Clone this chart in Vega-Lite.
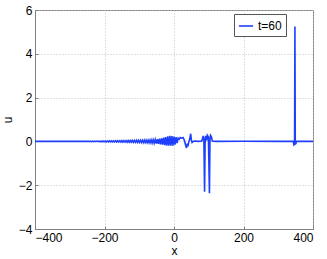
{
  "$schema": "https://vega.github.io/schema/vega-lite/v6.json",
  "autosize": "none",
  "width": 278,
  "height": 219,
  "padding": {"left": 35, "top": 10, "right": 14, "bottom": 30},
  "background": "white",
  "config": {
    "view": {"stroke": "#808080", "strokeWidth": 1},
    "font": "Liberation Sans",
    "axis": {
      "domainColor": "#808080",
      "tickColor": "#808080",
      "tickSize": -3,
      "labelColor": "#000000",
      "labelFontSize": 12,
      "labelFont": "Liberation Sans",
      "titleFont": "Liberation Sans",
      "titleFontWeight": "normal",
      "titleFontSize": 12,
      "titleColor": "#000000",
      "gridColor": "#c0c0c0",
      "gridDash": [1, 2],
      "gridWidth": 1
    }
  },
  "data": {
    "values": [
      {"x": -400, "u": 0}, {"x": -350, "u": 0}, {"x": -300, "u": 0.002},
      {"x": -240, "u": 0.01}, {"x": -237, "u": -0.01}, {"x": -234, "u": 0.01}, {"x": -231, "u": -0.01},
      {"x": -228, "u": 0.012}, {"x": -225, "u": -0.012}, {"x": -222, "u": 0.012}, {"x": -219, "u": -0.012},
      {"x": -216, "u": 0.015}, {"x": -213, "u": -0.015}, {"x": -210, "u": 0.015}, {"x": -207, "u": -0.015},
      {"x": -204, "u": 0.018}, {"x": -201, "u": -0.018}, {"x": -198, "u": 0.02}, {"x": -195, "u": -0.02},
      {"x": -192, "u": 0.02}, {"x": -189, "u": -0.02}, {"x": -186, "u": 0.022}, {"x": -183, "u": -0.022},
      {"x": -180, "u": 0.024}, {"x": -177, "u": -0.024}, {"x": -174, "u": 0.025}, {"x": -171, "u": -0.025},
      {"x": -168, "u": 0.027}, {"x": -165, "u": -0.027}, {"x": -162, "u": 0.028}, {"x": -159, "u": -0.028},
      {"x": -156, "u": 0.03}, {"x": -153, "u": -0.03}, {"x": -150, "u": 0.032}, {"x": -147, "u": -0.032},
      {"x": -144, "u": 0.034}, {"x": -141, "u": -0.034}, {"x": -138, "u": 0.036}, {"x": -135, "u": -0.036},
      {"x": -132, "u": 0.038}, {"x": -129, "u": -0.038}, {"x": -126, "u": 0.04}, {"x": -123, "u": -0.04},
      {"x": -120, "u": 0.042}, {"x": -117, "u": -0.042}, {"x": -114, "u": 0.045}, {"x": -111, "u": -0.045},
      {"x": -108, "u": 0.047}, {"x": -105, "u": -0.047}, {"x": -102, "u": 0.05}, {"x": -99, "u": -0.05},
      {"x": -96, "u": 0.052}, {"x": -93, "u": -0.052}, {"x": -90, "u": 0.055}, {"x": -87, "u": -0.055},
      {"x": -84, "u": 0.058}, {"x": -81, "u": -0.058}, {"x": -78, "u": 0.06}, {"x": -75, "u": -0.062},
      {"x": -72, "u": 0.065}, {"x": -69, "u": -0.068}, {"x": -66, "u": 0.07}, {"x": -63, "u": -0.074},
      {"x": -60, "u": 0.078}, {"x": -57, "u": -0.082}, {"x": -54, "u": 0.088}, {"x": -51, "u": -0.094},
      {"x": -48, "u": 0.1}, {"x": -45, "u": -0.11}, {"x": -42, "u": 0.12}, {"x": -39, "u": -0.13},
      {"x": -36, "u": 0.14}, {"x": -33, "u": -0.15}, {"x": -30, "u": 0.17}, {"x": -27, "u": -0.17},
      {"x": -24, "u": 0.2}, {"x": -21, "u": -0.19}, {"x": -18, "u": 0.23}, {"x": -15, "u": -0.2},
      {"x": -12, "u": 0.25}, {"x": -9, "u": -0.2}, {"x": -6, "u": 0.24}, {"x": -3, "u": -0.19},
      {"x": 0, "u": 0.22}, {"x": 3, "u": -0.15}, {"x": 6, "u": 0.2}, {"x": 9, "u": -0.08},
      {"x": 12, "u": 0.15}, {"x": 15, "u": 0.1}, {"x": 18, "u": 0.18}, {"x": 22, "u": 0.15},
      {"x": 26, "u": 0.18}, {"x": 30, "u": 0.05}, {"x": 33, "u": -0.15}, {"x": 36, "u": -0.3},
      {"x": 38, "u": -0.1}, {"x": 40, "u": -0.22}, {"x": 43, "u": 0.0}, {"x": 46, "u": 0.15},
      {"x": 48, "u": 0.35}, {"x": 50, "u": 0.05}, {"x": 52, "u": -0.05}, {"x": 55, "u": 0.0},
      {"x": 60, "u": 0.02}, {"x": 70, "u": 0.0}, {"x": 80, "u": 0.02}, {"x": 84, "u": 0.25},
      {"x": 86, "u": 0.1}, {"x": 88, "u": -2.3}, {"x": 89.5, "u": -0.1}, {"x": 91, "u": 0.25},
      {"x": 94, "u": 0.05}, {"x": 96, "u": 0.28}, {"x": 99, "u": 0.2}, {"x": 102, "u": -2.37},
      {"x": 103.5, "u": 0.1}, {"x": 105, "u": 0.28}, {"x": 108, "u": 0.2}, {"x": 110, "u": 0.02},
      {"x": 120, "u": 0}, {"x": 200, "u": 0.01}, {"x": 300, "u": 0}, {"x": 343, "u": 0},
      {"x": 345, "u": -0.15}, {"x": 347, "u": -0.1}, {"x": 348, "u": 5.25}, {"x": 349, "u": -0.12},
      {"x": 351, "u": -0.1}, {"x": 352, "u": 0}, {"x": 400, "u": 0}
    ]
  },
  "mark": {"type": "line", "strokeWidth": 1.6, "clip": true},
  "encoding": {
    "x": {
      "field": "x", "type": "quantitative",
      "scale": {"domain": [-400, 400], "nice": false, "zero": false},
      "axis": {"values": [-400, -200, 0, 200, 400], "title": "x", "titlePadding": 2, "labelPadding": 6}
    },
    "y": {
      "field": "u", "type": "quantitative",
      "scale": {"domain": [-4, 6], "nice": false, "zero": false},
      "axis": {"values": [-4, -2, 0, 2, 4, 6], "title": "u", "titlePadding": 4, "labelPadding": 6}
    },
    "order": {"field": "x", "type": "quantitative"},
    "color": {
      "datum": "t=60",
      "scale": {"range": ["#1f3fff"]},
      "legend": {
        "title": null,
        "orient": "none",
        "legendX": 199,
        "legendY": 4,
        "strokeColor": "#555555",
        "fillColor": "#ffffff",
        "padding": 4,
        "symbolType": "stroke",
        "symbolSize": 200,
        "symbolStrokeWidth": 1.6,
        "labelFontSize": 12,
        "labelColor": "#000000",
        "labelFont": "Liberation Sans"
      }
    }
  }
}
